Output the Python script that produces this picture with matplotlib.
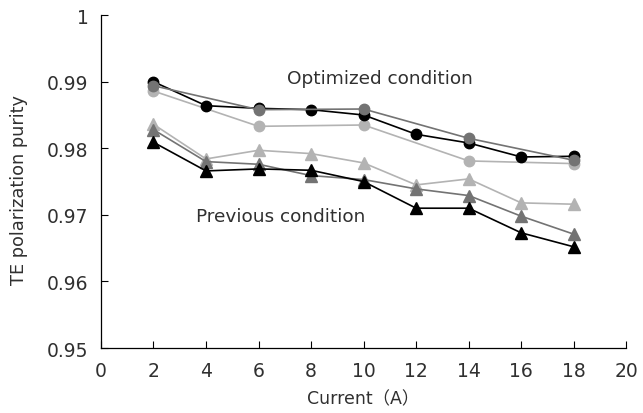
import matplotlib.pyplot as plt

plt.rcParams['font.family'] = ['DejaVu Sans', 'Noto Sans CJK JP']

# current (A)
current = [2, 4, 6, 8, 10, 12, 14, 16, 18]
current_sparse = [2, 6, 10, 14, 18]

# optimized condition (circles)
opt_black = [0.9900, 0.9864, 0.9860, 0.9858, 0.9850, 0.9821, 0.9808, 0.9787, 0.9788]
opt_dark = [0.9894, 0.9858, 0.9859, 0.9815, 0.9782]
opt_light = [0.9886, 0.9833, 0.9835, 0.9781, 0.9777]

# previous condition (triangles)
prev_black = [0.9809, 0.9766, 0.9769, 0.9767, 0.9750, 0.9710, 0.9710, 0.9673, 0.9652]
prev_dark = [0.9828, 0.9780, 0.9776, 0.9759, 0.9753, 0.9739, 0.9729, 0.9698, 0.9671]
prev_light = [0.9836, 0.9784, 0.9797, 0.9792, 0.9778, 0.9745, 0.9754, 0.9718, 0.9716]

yticks = [0.95, 0.96, 0.97, 0.98, 0.99, 1.0]
ytick_labels = ['0.95', '0.96', '0.97', '0.98', '0.99', '1']

black = '#000000'
dark = '#737373'
light = '#b3b3b3'
txt = '#303030'

fig = plt.figure(figsize=(6.43, 4.14), dpi=100)
ax = fig.add_axes([0.157, 0.157, 0.817, 0.804])

lw = 1.2
ms_c = 7.5
ms_t = 8

ax.plot(current, prev_light, '-^', color=light, lw=lw, ms=ms_t, zorder=3)
ax.plot(current, prev_dark, '-^', color=dark, lw=lw, ms=ms_t, zorder=4)
ax.plot(current, prev_black, '-^', color=black, lw=lw, ms=ms_t, zorder=5)

ax.plot(current_sparse, opt_light, '-o', color=light, lw=lw, ms=ms_c, zorder=3)
ax.plot(current, opt_black, '-o', color=black, lw=lw, ms=ms_c, zorder=4)
ax.plot(current_sparse, opt_dark, '-o', color=dark, lw=lw, ms=ms_c, zorder=5)

ax.text(7.1, 0.9905, 'Optimized condition', fontsize=13.3, color=txt, va='center')
ax.text(3.6, 0.9698, 'Previous condition', fontsize=13.3, color=txt, va='center')

ax.set_xlim(0, 20)
ax.set_ylim(0.95, 1.0)
ax.set_xticks(range(0, 21, 2))
ax.set_yticks(yticks)
ax.set_yticklabels(ytick_labels)

for s in ['top', 'right']:
    ax.spines[s].set_visible(False)
for s in ['left', 'bottom']:
    ax.spines[s].set_linewidth(0.9)

ax.tick_params(direction='in', length=5, width=0.8, labelsize=13.5, labelcolor=txt)
ax.tick_params(axis='x', pad=9)
ax.tick_params(axis='y', pad=9)
ax.set_xlabel('Current（A）', fontsize=12.5, color=txt)
ax.set_ylabel('TE polarization purity', fontsize=12.8, color=txt)
ax.xaxis.set_label_coords(0.5, -0.125)
ax.yaxis.set_label_coords(-0.138, 0.478)

fig.savefig('out.png', dpi=100)
